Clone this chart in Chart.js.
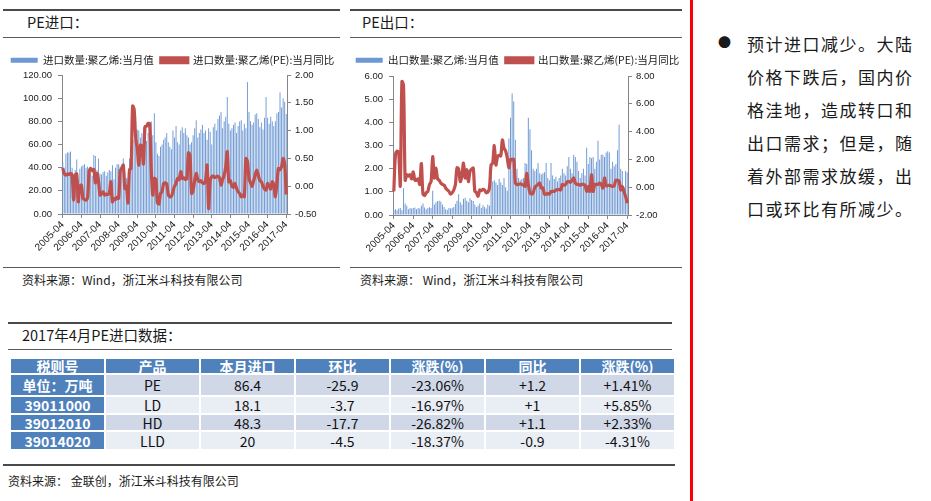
<!DOCTYPE html>
<html>
<head>
<meta charset="utf-8">
<script src="https://cdn.jsdelivr.net/npm/chart.js@4.4.0/dist/chart.umd.min.js"></script>
<style>
  body { margin:0; width:931px; height:501px; background:#fff; position:relative; overflow:hidden;
         font-family:"Microsoft YaHei","Noto Sans CJK SC",sans-serif; color:#1a1a1a; }
  .hr { position:absolute; height:0; }
  .dark { border-top:2px solid #4a4a4a; }
  .mid { border-top:1.5px solid #5a5a5a; }
  .title { position:absolute; font-size:14.5px; line-height:18px; }
  .src { position:absolute; font-size:12px; line-height:16px; }
  .box { position:absolute; }
  #tbl { position:absolute; left:9px; top:357px; width:667px; border-collapse:collapse; table-layout:fixed; }
  #tbl td { border:2px solid #fff; text-align:center; font-size:14px; line-height:12px; padding:0; color:#111; }
  #tbl tr.h td { background:#4f81bd; color:#fff; font-weight:bold; }
  #tbl tr.a td { background:#d0d8e8; }
  #tbl tr.b td { background:#e9edf4; }
  #tbl tr td.k { background:#4f81bd; color:#fff; font-weight:bold; }
  #note { position:absolute; left:747px; top:27px; font-size:17px; line-height:33px; letter-spacing:1.5px; }
  #dot { position:absolute; left:718px; top:32px; font-size:13px; }
</style>
</head>
<body>

<div class="hr dark" style="left:3px;top:9px;width:337px"></div>
<div class="title" style="left:27px;top:13px">PE进口：</div>
<div class="hr mid" style="left:3px;top:37px;width:337px"></div>
<div class="box" style="left:0;top:48px;width:345px;height:215px"><canvas id="imp"></canvas></div>
<div class="hr mid" style="left:3px;top:267px;width:337px"></div>
<div class="src" style="left:22px;top:272px">资料来源：Wind，浙江米斗科技有限公司</div>

<div class="hr dark" style="left:350px;top:9px;width:332px"></div>
<div class="title" style="left:362px;top:13px">PE出口：</div>
<div class="hr mid" style="left:350px;top:37px;width:332px"></div>
<div class="box" style="left:345px;top:48px;width:345px;height:215px"><canvas id="exp"></canvas></div>
<div class="hr mid" style="left:350px;top:267px;width:332px"></div>
<div class="src" style="left:360px;top:272px">资料来源： Wind，浙江米斗科技有限公司</div>

<div class="hr dark" style="left:8px;top:322px;width:664px"></div>
<div class="title" style="left:22px;top:326px">2017年4月PE进口数据：</div>
<div class="hr mid" style="left:8px;top:349px;width:664px"></div>
<table id="tbl"></table>
<div class="hr dark" style="left:3px;top:464px;width:672px"></div>
<div class="src" style="left:8px;top:473px">资料来源： 金联创，浙江米斗科技有限公司</div>

<div style="position:absolute;left:690px;top:0;width:2.5px;height:501px;background:#ff0000"></div>
<div id="dot">●</div>
<div id="note">预计进口减少。大陆<br>价格下跌后，国内价<br>格洼地，造成转口和<br>出口需求；但是，随<br>着外部需求放缓，出<br>口或环比有所减少。</div>

<script>
// monthly 2005-04 .. 2017-04
const months = [];
for (let y = 2005; y <= 2017; y++) {
  for (let m = 1; m <= 12; m++) {
    if (y === 2005 && m < 4) continue;
    if (y === 2017 && m > 4) continue;
    months.push(y + "-" + String(m).padStart(2, "0"));
  }
}

// import volume (万吨)
const importVol = [45,38,52,53,53,54,40,34,38,47,30,39,
  41,42,43,40,41,38,36,33,51,50,38,48,
  35,34,36,37,33,36,38,37,42,30,40,43,
  43,41,40,48,36,31,30,48,51,45,64,70,
  73,72,66,70,75,72,63,70,76,80,68,87,
  62,52,50,58,60,64,66,70,62,58,56,72,
  66,76,62,60,72,75,70,74,68,66,60,62,
  68,74,81,66,70,73,77,70,72,64,74,71,
  60,75,78,72,82,85,88,74,80,84,101,78,
  72,74,77,79,70,76,80,81,72,78,74,114,
  88,80,77,79,86,87,82,75,79,73,83,101,
  83,78,84,80,76,80,87,88,105,92,100,97,
  86.4];

// import yoy
const importYoy = [0.33,0.22,0.2,0.22,0.21,0.23,0.2,-0.25,0.2,0.22,-0.28,0.0,
  0.02,-0.22,-0.24,-0.25,-0.2,0.27,0.32,0.28,0.3,0.06,0.23,0.1,
  -0.16,-0.14,-0.1,-0.16,-0.14,-0.15,-0.12,0.08,-0.28,-0.22,-0.24,-0.2,
  -0.22,0.28,0.32,0.38,-0.04,0.0,-0.3,0.3,0.32,1.44,1.38,0.86,
  0.68,0.38,0.74,0.72,0.4,1.07,1.08,1.13,1.12,0.32,-0.16,0.14,
  0.12,-0.3,-0.32,-0.13,-0.1,0.05,0.06,0.04,-0.15,-0.19,-0.18,-0.1,
  0.0,0.05,0.14,0.12,0.26,0.14,0.15,0.12,0.14,0.6,0.55,-0.13,
  -0.08,0.1,0.23,0.12,0.08,0.1,0.06,0.05,0.1,0.38,-0.4,0.1,
  0.17,0.18,0.16,0.17,0.18,0.15,0.02,0.12,0.2,0.35,0.62,0.08,
  0.1,0.0,-0.02,0.05,-0.04,-0.1,-0.13,-0.19,-0.16,-0.19,0.5,0.45,
  0.14,0.06,0.0,0.1,0.2,0.29,0.2,0.1,0.08,0.0,-0.05,-0.07,
  0.05,0.0,-0.05,0.08,0.02,-0.19,0.05,0.32,0.3,0.35,0.5,0.4,
  -0.15];

// export volume (万吨)
const exportVol = [0.22,0.25,0.2,0.28,0.3,0.2,1.15,0.5,0.4,0.25,0.3,0.28,
  0.3,0.32,0.25,0.3,0.28,0.4,0.5,0.32,0.25,0.3,0.33,0.3,
  1.05,0.45,0.55,0.6,0.62,0.58,0.45,0.35,0.25,0.22,0.3,0.28,
  0.3,0.35,0.48,0.62,0.9,0.55,0.45,0.7,0.75,0.62,0.55,0.72,
  0.65,0.6,0.45,0.35,0.4,0.5,0.3,0.42,0.35,0.28,0.45,0.4,
  1.75,1.45,1.5,1.4,1.3,1.55,1.4,1.3,1.6,1.2,1.05,3.3,
  4.2,5.25,4.9,3.25,2.0,1.6,1.5,1.55,1.6,2.25,2.2,4.2,
  3.7,2.8,2.0,1.9,2.0,2.25,1.8,1.75,1.8,1.85,2.25,1.6,
  1.5,2.25,1.7,1.55,1.65,1.45,1.6,1.7,2.0,1.8,1.7,2.1,
  2.5,2.0,1.8,2.6,2.5,2.3,1.9,1.6,1.8,2.0,1.7,2.9,
  2.2,2.5,2.45,2.5,2.0,2.3,3.2,2.4,2.6,2.6,2.5,2.7,
  2.75,2.7,2.0,2.3,2.1,2.2,2.8,3.9,2.0,1.9,1.2,1.9,
  1.85];

// export yoy
const exportYoy = [-0.3,2.3,2.6,2.5,0.1,7.6,7.3,0.5,0.9,0.8,0.9,0.6,
  1.1,0.5,0.5,0.6,0.2,1.7,-0.5,-0.6,-0.4,-0.3,0.2,0.4,
  2.2,0.66,1.38,0.6,0.5,0.3,0.2,0.15,-0.06,-0.2,-0.3,-0.5,
  -0.4,-0.2,0.2,1.4,1.3,0.4,0.8,1.74,0.66,1.26,0.4,1.14,
  1.3,1.38,-0.3,-0.4,-0.65,-0.2,-0.25,-0.15,-0.2,-0.4,-0.35,-0.06,
  1.6,1.74,3.0,1.6,2.2,2.3,2.25,3.4,2.8,2.6,2.1,1.4,
  2.0,2.0,2.0,0.3,0.2,0.2,0.25,0.2,0.15,0.06,1.0,0.2,
  -0.4,-0.5,-0.4,0.0,0.1,0.2,0.3,-0.06,-0.06,-0.5,-0.5,-0.45,
  -0.5,-0.3,-0.3,-0.3,-0.2,-0.2,-0.15,-0.2,0.2,0.15,0.2,0.4,
  0.4,0.35,0.5,0.66,0.3,0.2,0.2,0.15,0.2,0.2,0.15,-0.3,
  0.06,-0.3,0.9,-0.3,0.2,0.2,0.2,0.3,0.2,-0.06,0.66,0.1,
  0.1,0.15,0.1,0.05,0.1,0.5,0.5,0.45,-0.2,0.06,-0.3,-0.66,
  -1.14];

// table
const tableHead = ["税则号", "产品", "本月进口", "环比", "涨跌(%)", "同比", "涨跌(%)"];
const tableRows = [
  ["单位：万吨", "PE", "86.4", "-25.9", "-23.06%", "+1.2", "+1.41%"],
  ["39011000", "LD", "18.1", "-3.7", "-16.97%", "+1", "+5.85%"],
  ["39012010", "HD", "48.3", "-17.7", "-26.82%", "+1.1", "+2.33%"],
  ["39014020", "LLD", "20", "-4.5", "-18.37%", "-0.9", "-4.31%"]
];
const rowHeights = [14, 20, 16, 15, 17];

const tbl = document.getElementById("tbl");
let html = "";
[tableHead].concat(tableRows).forEach((r, i) => {
  const cls = i === 0 ? "h" : (i % 2 ? "a" : "b");
  html += '<tr class="' + cls + '">';
  r.forEach((c, j) => {
    html += '<td style="height:' + rowHeights[i] + 'px"' + (i > 0 && j === 0 ? ' class="k"' : "") + ">" + c + "</td>";
  });
  html += "</tr>";
});
tbl.innerHTML = html;

const barColor = "#6d98d3";
const lineColor = "#c0504d";
const tickFont = { family: "Liberation Sans, Arial", size: 9.5 };
const xTickFont = { family: "Liberation Sans, Arial", size: 10 };

const legendFix = {
  id: "legendFix",
  beforeLayout(chart) {
    if (chart.legend && !chart.legend._fixed) {
      const fit = chart.legend.fit;
      const h = chart.options.plugins.legendFix.h;
      chart.legend.fit = function () { fit.call(this); this.height = h; };
      chart.legend._fixed = true;
    }
  }
};

function makeChart(id, barName, lineName, bars, line, left, right, dims) {
  return new Chart(document.getElementById(id), {
    type: "bar",
    data: {
      labels: months,
      datasets: [
        { type: "bar", label: barName, data: bars, backgroundColor: barColor, yAxisID: "y",
          barPercentage: 0.6, categoryPercentage: 1.0, order: 1 },
        { type: "line", label: lineName, data: line, borderColor: lineColor, backgroundColor: lineColor,
          borderWidth: 3.2, pointRadius: 0, tension: 0.3, yAxisID: "y1", order: 0 }
      ]
    },
    plugins: [legendFix],
    options: {
      responsive: true,
      maintainAspectRatio: false,
      animation: false,
      layout: { padding: 0 },
      plugins: {
        legendFix: { h: dims.top },
        tooltip: { enabled: false },
        legend: {
          position: "top",
          labels: {
            boxWidth: 27, boxHeight: 5, padding: 7, color: "#1a1a1a",
            font: { family: "Microsoft YaHei, Noto Sans CJK SC", size: 10.5 },
            sort: (a, b) => a.datasetIndex - b.datasetIndex
          }
        }
      },
      scales: {
        x: {
          afterFit: s => { s.height = dims.bottom; },
          grid: { display: true, drawOnChartArea: false, drawTicks: true, tickLength: 4, offset: false,
                  color: c => (c.index % 12 === 0 ? "#868686" : "rgba(0,0,0,0)") },
          border: { color: "#868686" },
          ticks: { autoSkip: false, maxRotation: 45, minRotation: 45, color: "#1a1a1a", font: xTickFont, padding: 1,
                   callback: function (v, i) { return i % 12 === 0 ? months[i] : ""; } }
        },
        y: {
          position: "left", min: left.min, max: left.max,
          afterFit: s => { s.width = dims.left; },
          grid: { drawOnChartArea: false, tickLength: 4, color: "#868686" },
          border: { color: "#868686" },
          ticks: { stepSize: left.step, color: "#1a1a1a", font: tickFont, padding: 6,
                   callback: v => v.toFixed(2) }
        },
        y1: {
          position: "right", min: right.min, max: right.max,
          afterFit: s => { s.width = dims.right; },
          grid: { drawOnChartArea: false, tickLength: 4, color: "#868686" },
          border: { color: "#868686" },
          ticks: { stepSize: right.step, color: "#1a1a1a", font: tickFont, padding: 4,
                   callback: v => v.toFixed(2) }
        }
      }
    }
  });
}

makeChart("imp", "进口数量:聚乙烯:当月值", "进口数量:聚乙烯(PE):当月同比", importVol, importYoy,
  { min: 0, max: 120, step: 20 }, { min: -0.5, max: 2, step: 0.5 },
  { top: 27, bottom: 49, left: 62, right: 58 });

makeChart("exp", "出口数量:聚乙烯:当月值", "出口数量:聚乙烯(PE):当月同比", exportVol, exportYoy,
  { min: 0, max: 6, step: 1 }, { min: -2, max: 8, step: 2 },
  { top: 28, bottom: 48, left: 48, right: 62 });
</script>
</body>
</html>
